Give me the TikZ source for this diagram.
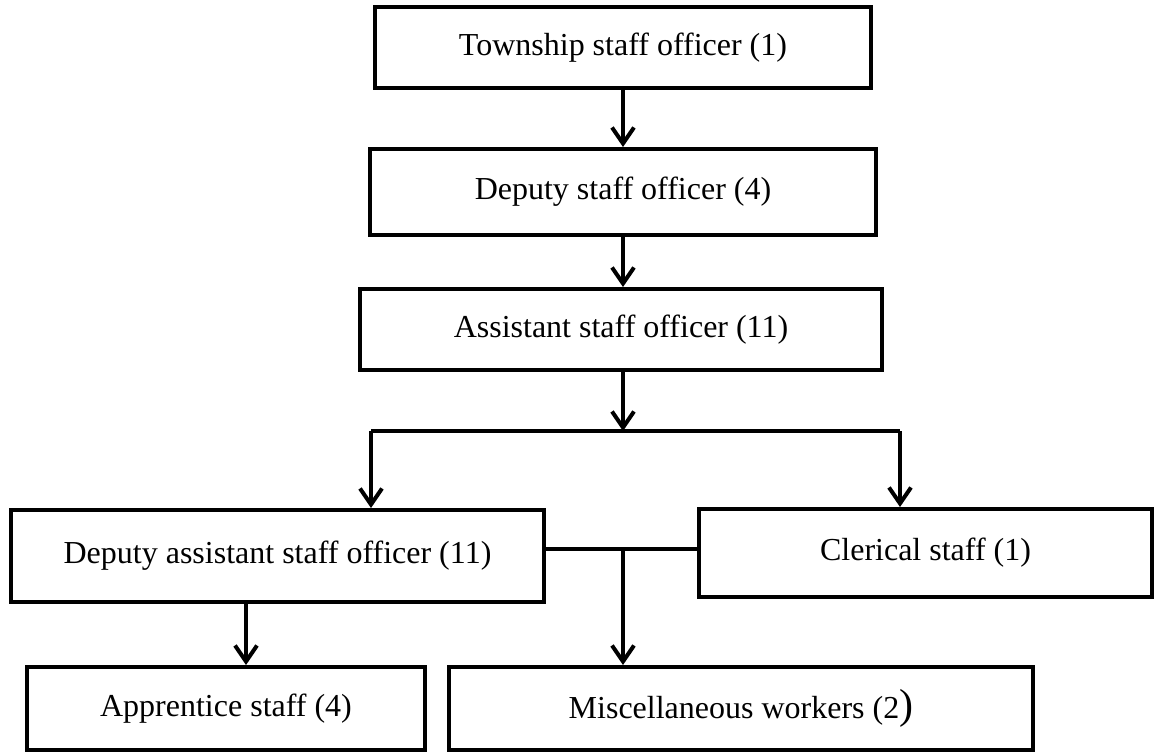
\documentclass[tikz,border=0pt]{standalone}
\usepackage{fontspec}
\setmainfont{Liberation Serif}
\usetikzlibrary{arrows.meta}
\begin{document}
\begin{tikzpicture}[x=0.5pt,y=-0.5pt,
  box/.style={draw, line width=2pt, inner sep=0pt, align=center,
    font=\fontsize{16}{19}\selectfont},
  link/.style={line width=2pt},
  arr/.style={link, -{Straight Barb[length=8pt,width=11pt]}}]
\useasboundingbox (0,0) rectangle (1156,752);

% organisation levels
\node[box, minimum width=248pt, minimum height=40.5pt] (b1) at (623,47.5) {Township staff officer (1)};
\node[box, minimum width=253pt, minimum height=43pt] (b2) at (623,192) {Deputy staff officer (4)};
\node[box, minimum width=261pt, minimum height=40.5pt] (b3) at (621,329.5) {Assistant staff officer (11)};
\node[box, minimum width=266.5pt, minimum height=46pt] (b4) at (277.5,556) {Deputy assistant staff officer (11)};
\node[box, minimum width=226.5pt, minimum height=44pt] (cl) at (925.5,553) {Clerical staff (1)};
\node[box, minimum width=199pt, minimum height=41.5pt] (ap) at (226,708.5) {Apprentice staff (4)};
\node[box, minimum width=292pt, minimum height=41.5pt] (mi) at (741,708.5) {Miscellaneous workers (2{\fontsize{21}{21}\selectfont)}};

% branching points
\coordinate (split) at (623,431);
\coordinate (sl) at (371,431);
\coordinate (sr) at (900,431);
\coordinate (join) at (623,549);
\coordinate (apin) at (246,0);

% connectors
\draw[arr] (b1.south) -- (b2.north);
\draw[arr] (b2.south) -- (b2.south |- b3.north);
\draw[arr] (b3.south -| split) -- (split);
\draw[link] (sl) -- (sr);
\draw[arr] (sl) -- (sl |- b4.north);
\draw[arr] (sr) -- (sr |- cl.north);
\draw[link] (b4.east |- join) -- (cl.west |- join);
\draw[arr] (join) -- (join |- mi.north);
\draw[arr] (b4.south -| apin) -- (ap.north -| apin);
\end{tikzpicture}
\end{document}
